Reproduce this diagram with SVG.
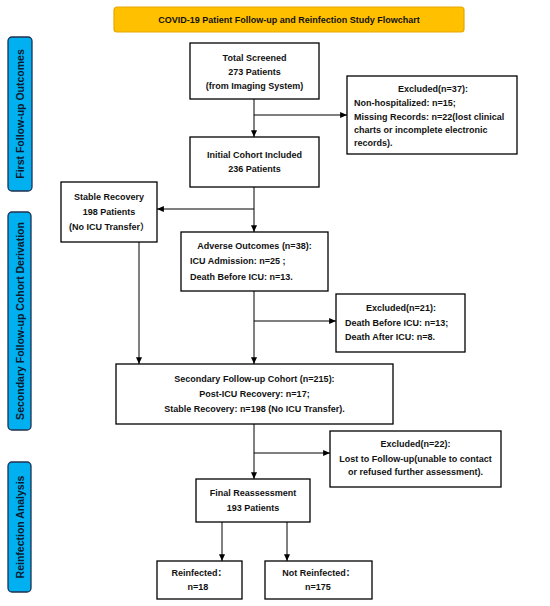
<svg xmlns="http://www.w3.org/2000/svg" width="550" height="606" viewBox="0 0 550 606">
<style>
.box{fill:#fff;stroke:#000;stroke-width:1.3}
.side{fill:#00B0F0;stroke:#1F3050;stroke-width:1.3}
.t{font-family:"Liberation Sans","Noto Sans CJK SC",sans-serif;font-weight:bold;font-size:9px;fill:#111}
.c{text-anchor:middle}
.s{font-family:"Liberation Sans",sans-serif;font-weight:bold;font-size:10.5px;fill:#0b1a2e;text-anchor:middle}
.ln{stroke:#000;stroke-width:1;fill:none}
.a{marker-end:url(#ah)}
</style>
<defs>
<marker id="ah" viewBox="0 0 8 7" refX="8" refY="3.5" markerWidth="7" markerHeight="6" markerUnits="userSpaceOnUse" orient="auto">
<path d="M0,0 L8,3.5 L0,7 z" fill="#000"/>
</marker>
</defs>
<rect width="550" height="606" fill="#fff"/>
<g id="title">
<rect x="114" y="7" width="350" height="25" rx="3" fill="#FFC000" stroke="#E5A800" stroke-width="1.2"/>
<text class="t c" x="289" y="23">COVID-19 Patient Follow-up and Reinfection Study Flowchart</text>
</g>
<g id="side1">
<rect class="side" x="8" y="37" width="24" height="154" rx="4"/>
<text class="s" transform="translate(24,114) rotate(-90)">First Follow-up Outcomes</text>
</g>
<g id="side2">
<rect class="side" x="8" y="212" width="23" height="218" rx="4"/>
<text class="s" transform="translate(23.5,321) rotate(-90)">Secondary Follow-up Cohort Derivation</text>
</g>
<g id="side3">
<rect class="side" x="8" y="462" width="23" height="130" rx="4"/>
<text class="s" transform="translate(23.5,527) rotate(-90)">Reinfection Analysis</text>
</g>
<g id="connectors">
<line class="ln a" x1="254" y1="99" x2="254" y2="137"/>
<line class="ln a" x1="254" y1="115" x2="347" y2="115"/>
<line class="ln a" x1="254" y1="187" x2="254" y2="232"/>
<line class="ln a" x1="254" y1="209" x2="157" y2="209"/>
<line class="ln a" x1="139" y1="242" x2="139" y2="364"/>
<line class="ln a" x1="254" y1="291" x2="254" y2="364"/>
<line class="ln a" x1="254" y1="321" x2="336" y2="321"/>
<line class="ln a" x1="254" y1="424" x2="254" y2="479"/>
<line class="ln a" x1="254" y1="453" x2="330" y2="453"/>
<line class="ln a" x1="222" y1="522" x2="222" y2="561"/>
<line class="ln a" x1="287" y1="522" x2="287" y2="561"/>
</g>
<g id="total">
<rect class="box" x="190" y="43" width="129" height="56"/>
<text class="t c" x="254.5" y="60.5">Total Screened</text>
<text class="t c" x="254.5" y="74.5">273 Patients</text>
<text class="t c" x="254.5" y="88.5">(from Imaging System)</text>
</g>
<g id="excl37">
<rect class="box" x="347" y="76" width="170" height="78"/>
<text class="t c" x="433" y="92">Excluded(n=37):</text>
<text class="t" x="354" y="106">Non-hospitalized: n=15;</text>
<text class="t" x="354" y="120">Missing Records: n=22(lost clinical</text>
<text class="t" x="354" y="132.5">charts or incomplete electronic</text>
<text class="t" x="354" y="145.5">records).</text>
</g>
<g id="initial">
<rect class="box" x="190" y="137" width="129" height="50"/>
<text class="t c" x="254.5" y="158">Initial Cohort Included</text>
<text class="t c" x="254.5" y="172">236 Patients</text>
</g>
<g id="stable">
<rect class="box" x="61" y="182" width="96" height="60"/>
<text class="t c" x="109" y="200">Stable Recovery</text>
<text class="t c" x="109" y="215">198 Patients</text>
<text class="t c" x="109" y="230">(No ICU Transfer）</text>
</g>
<g id="adverse">
<rect class="box" x="181" y="232" width="147" height="59"/>
<text class="t c" x="254.5" y="249">Adverse Outcomes (n=38):</text>
<text class="t" x="190" y="264">ICU Admission: n=25 ;</text>
<text class="t" x="190" y="280">Death Before ICU: n=13.</text>
</g>
<g id="excl21">
<rect class="box" x="336" y="294" width="129" height="58"/>
<text class="t c" x="401" y="311">Excluded(n=21):</text>
<text class="t" x="345" y="326">Death Before ICU: n=13;</text>
<text class="t" x="345" y="340">Death After ICU: n=8.</text>
</g>
<g id="secondary">
<rect class="box" x="116" y="364" width="277" height="60"/>
<text class="t c" x="254.5" y="382">Secondary Follow-up Cohort (n=215):</text>
<text class="t c" x="254.5" y="397">Post-ICU Recovery: n=17;</text>
<text class="t c" x="254.5" y="412">Stable Recovery: n=198 (No ICU Transfer).</text>
</g>
<g id="excl22">
<rect class="box" x="330" y="431" width="171" height="56"/>
<text class="t c" x="415.5" y="447">Excluded(n=22):</text>
<text class="t c" x="415.5" y="462">Lost to Follow-up(unable to contact</text>
<text class="t c" x="415.5" y="475">or refused further assessment).</text>
</g>
<g id="final">
<rect class="box" x="196" y="479" width="114" height="43"/>
<text class="t c" x="253" y="496">Final Reassessment</text>
<text class="t c" x="253" y="511">193 Patients</text>
</g>
<g id="reinf">
<rect class="box" x="157" y="561" width="85" height="38"/>
<text class="t c" x="199" y="576">Reinfected：</text>
<text class="t c" x="198" y="590">n=18</text>
</g>
<g id="notreinf">
<rect class="box" x="265" y="561" width="107" height="38"/>
<text class="t c" x="318.5" y="576">Not Reinfected：</text>
<text class="t c" x="318" y="590">n=175</text>
</g>
</svg>
